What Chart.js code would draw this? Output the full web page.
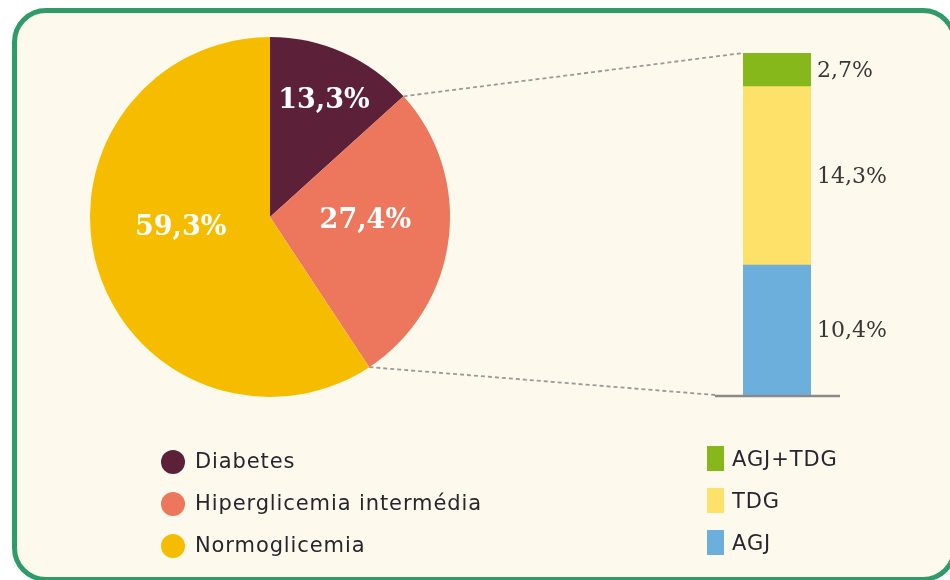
<!DOCTYPE html>
<html>
<head>
<meta charset="utf-8">
<script src="https://cdn.jsdelivr.net/npm/chart.js@4.4.1/dist/chart.umd.min.js"></script>
<style>
  html, body { margin:0; padding:0; background:#ffffff; width:950px; height:580px; overflow:hidden; }
  #frame { position:absolute; left:12px; top:8px; width:945px; height:574px; box-sizing:border-box;
           border:5px solid #2e9b68; border-radius:34px; background:#fdf9ec; }
  canvas { position:absolute; }
  #pieCanvas { left:0; top:0; }
  #barCanvas { left:690px; top:40px; }
  .legend { position:absolute; font-family:"DejaVu Sans", sans-serif; font-size:21px; letter-spacing:0.9px; color:#262630; }
  .legend .item { position:absolute; left:0; height:30px; line-height:30px; white-space:nowrap; }
  .legend .sw { position:absolute; }
</style>
</head>
<body>
<div id="frame"></div>
<canvas id="pieCanvas" width="950" height="580"></canvas>
<canvas id="barCanvas" width="260" height="370"></canvas>
<div id="legendPie" class="legend" style="left:161px; top:446px;"></div>
<div id="legendBar" class="legend" style="left:707px; top:444px;"></div>
<script>
// ---- data ----
const categories = ['Diabetes', 'Hiperglicemia intermédia', 'Normoglicemia'];
const pieValues = [13.3, 27.4, 59.3];
const pieColors = ['#5c2139', '#ec775c', '#f6bd00'];

const subCategories = ['AGJ+TDG', 'TDG', 'AGJ'];
const subValues = [2.7, 14.3, 10.4];
const subColors = ['#86b81b', '#fde169', '#6cafdc'];

const fmt = v => v.toFixed(1).replace('.', ',') + '%';

// ---- bar (breakdown) chart ----
const barOrder = [2, 1, 0]; // bottom to top
const barTotal = subValues.reduce((a, b) => a + b, 0);

const barLabelPlugin = {
  id: 'barLabels',
  afterDatasetsDraw(chart) {
    const ctx = chart.ctx;
    ctx.save();
    const meta0 = chart.getDatasetMeta(0).data[0];
    const left = meta0.x - meta0.width / 2;
    const right = meta0.x + meta0.width / 2;
    const base = chart.scales.y.getPixelForValue(0);
    ctx.strokeStyle = '#8a8a8a';
    ctx.lineWidth = 2.5;
    ctx.beginPath();
    ctx.moveTo(left - 28, base + 1);
    ctx.lineTo(right + 29, base + 1);
    ctx.stroke();
    ctx.font = '22px "DejaVu Serif", serif';
    ctx.fillStyle = '#383838';
    ctx.textBaseline = 'middle';
    ctx.textAlign = 'left';
    chart.data.datasets.forEach((ds, i) => {
      const el = chart.getDatasetMeta(i).data[0];
      const yMid = (el.y + el.base) / 2;
      ctx.fillText(fmt(ds.data[0]), el.x + el.width / 2 + 6, yMid + 1);
    });
    ctx.restore();
  }
};

const barChart = new Chart(document.getElementById('barCanvas'), {
  type: 'bar',
  data: {
    labels: ['Hiperglicemia intermédia'],
    datasets: barOrder.map(i => ({
      label: subCategories[i],
      data: [subValues[i]],
      backgroundColor: subColors[i],
      borderWidth: 0
    }))
  },
  options: {
    responsive: false,
    animation: false,
    layout: { padding: { left: 53, right: 139, top: 13, bottom: 15 } },
    barPercentage: 1,
    categoryPercentage: 1,
    plugins: { legend: { display: false }, tooltip: { enabled: false } },
    scales: {
      x: { stacked: true, display: false },
      y: { stacked: true, display: false, min: 0, max: barTotal }
    }
  },
  plugins: [barLabelPlugin]
});

// ---- pie chart ----
const barCanvasLeft = 690, barCanvasTop = 40;

const pieExtras = {
  id: 'pieExtras',
  afterDatasetsDraw(chart, args, opts) {
    const ctx = chart.ctx;
    const arcs = chart.getDatasetMeta(0).data;
    ctx.save();
    const topEl = barChart.getDatasetMeta(barChart.data.datasets.length - 1).data[0];
    const botEl = barChart.getDatasetMeta(0).data[0];
    const topX = barCanvasLeft + topEl.x - topEl.width / 2;
    const topY = barCanvasTop + topEl.y;
    const botX = barCanvasLeft + botEl.x - botEl.width / 2 - 28;
    const botY = barCanvasTop + botEl.base;
    const a0 = arcs[0], a1 = arcs[1];
    ctx.setLineDash([4, 3]);
    ctx.strokeStyle = '#9a9a9a';
    ctx.lineWidth = 1.8;
    ctx.beginPath();
    ctx.moveTo(a0.x + a0.outerRadius * Math.cos(a0.endAngle), a0.y + a0.outerRadius * Math.sin(a0.endAngle));
    ctx.lineTo(topX, topY);
    ctx.moveTo(a1.x + a1.outerRadius * Math.cos(a1.endAngle), a1.y + a1.outerRadius * Math.sin(a1.endAngle));
    ctx.lineTo(botX, botY);
    ctx.stroke();
    ctx.setLineDash([]);
    ctx.font = 'bold 27px "DejaVu Serif", serif';
    ctx.fillStyle = '#ffffff';
    ctx.textAlign = 'center';
    ctx.textBaseline = 'middle';
    arcs.forEach((a, i) => {
      const mid = (a.startAngle + a.endAngle) / 2 + opts.shift[i] * Math.PI / 180;
      const r = a.outerRadius * opts.radius[i];
      ctx.fillText(fmt(chart.data.datasets[0].data[i]), a.x + r * Math.cos(mid), a.y + r * Math.sin(mid));
    });
    ctx.restore();
  }
};

const pieChart = new Chart(document.getElementById('pieCanvas'), {
  type: 'pie',
  data: {
    labels: categories,
    datasets: [{ data: pieValues, backgroundColor: pieColors, borderWidth: 0 }]
  },
  options: {
    responsive: false,
    animation: false,
    layout: { padding: { left: 90, right: 500, top: 37, bottom: 183 } },
    plugins: {
      legend: { display: false },
      tooltip: { enabled: false },
      pieExtras: { radius: [0.71, 0.53, 0.50], shift: [1, -5, 10] }
    }
  },
  plugins: [pieExtras]
});

// ---- legends ----
function buildLegend(id, names, colors, shape, rowTops) {
  const box = document.getElementById(id);
  names.forEach((n, i) => {
    const it = document.createElement('div');
    it.className = 'item';
    it.style.top = rowTops[i] + 'px';
    const sw = document.createElement('span');
    sw.className = 'sw';
    if (shape === 'circle') {
      sw.style.cssText = `left:0;top:4px;width:24px;height:24px;border-radius:50%;background:${colors[i]}`;
    } else {
      sw.style.cssText = `left:0;top:2px;width:17px;height:25px;background:${colors[i]}`;
    }
    const tx = document.createElement('span');
    tx.textContent = n;
    tx.style.position = 'absolute';
    tx.style.left = (shape === 'circle' ? 34 : 25) + 'px';
    it.appendChild(sw);
    it.appendChild(tx);
    box.appendChild(it);
  });
}
buildLegend('legendPie', categories, pieColors, 'circle', [0, 42, 84]);
buildLegend('legendBar', subCategories, subColors, 'square', [0, 42, 84]);
</script>
</body>
</html>
